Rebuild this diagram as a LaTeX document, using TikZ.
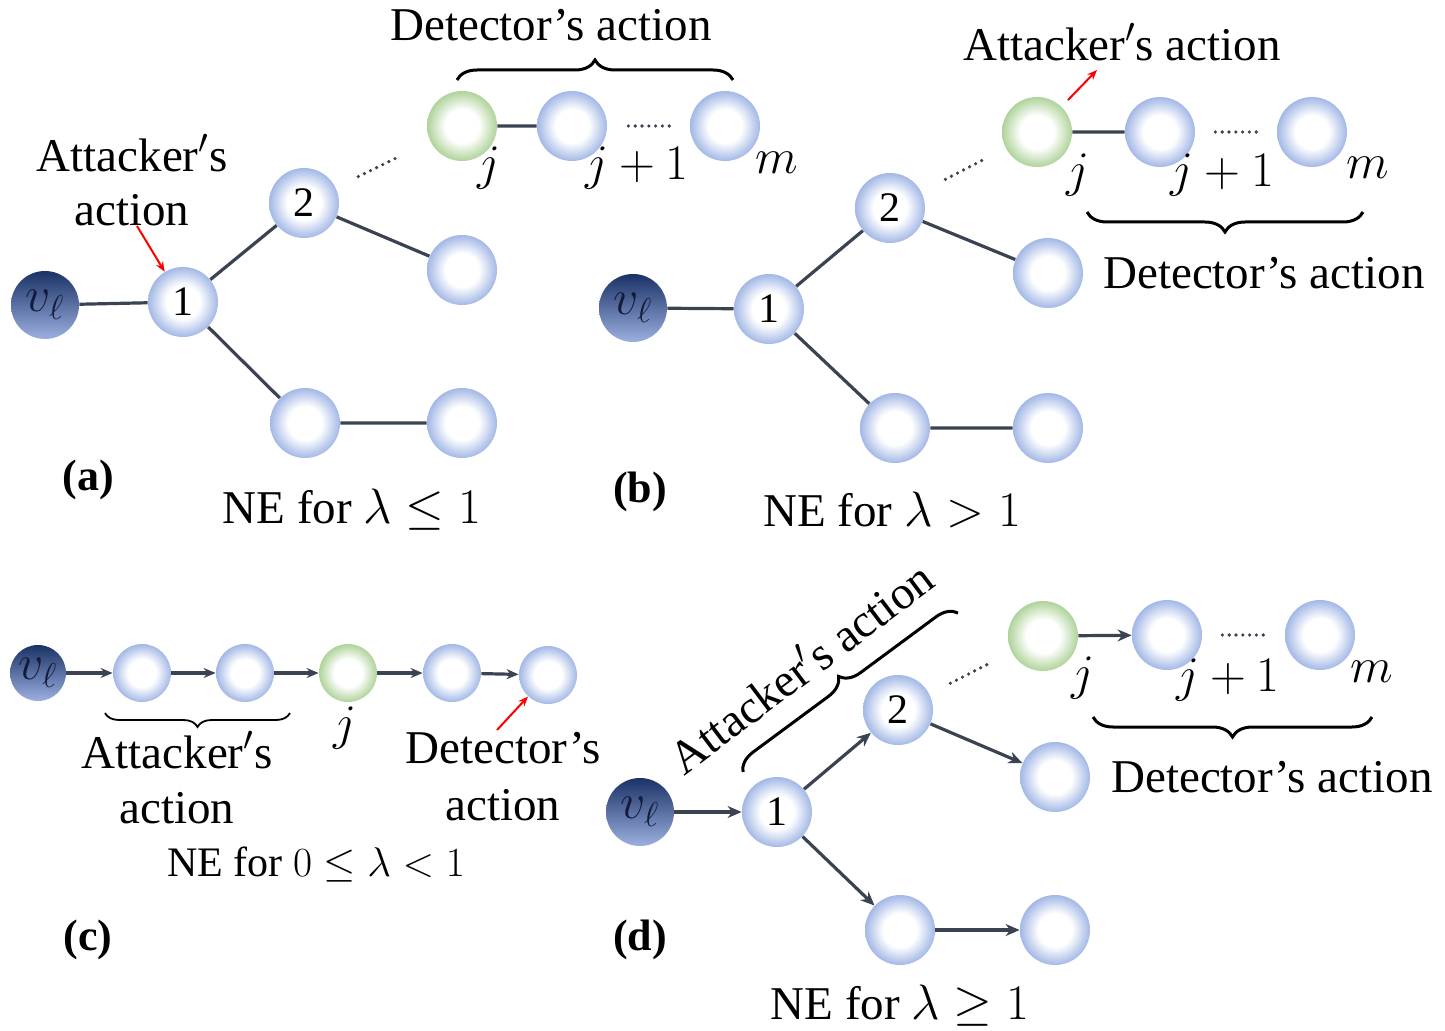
\documentclass[tikz,border=0pt]{standalone}
\usepackage{fontspec}
\setmainfont{Liberation Serif}
\usetikzlibrary{arrows.meta,decorations.pathreplacing,calc}
\definecolor{ballblue}{HTML}{A3B8E6}
\definecolor{ballgreen}{HTML}{AFD39A}
\definecolor{navytop}{HTML}{1A3266}
\definecolor{navymid}{HTML}{4A66A4}
\definecolor{navybot}{HTML}{9CAFE0}
\definecolor{navytext}{HTML}{141B3A}
\definecolor{edgec}{HTML}{3B4352}
\pgfdeclareradialshading{bballs}{\pgfpoint{0bp}{0bp}}{color(0bp)=(white); color(12bp)=(white); color(25bp)=(ballblue); color(50bp)=(ballblue)}
\pgfdeclareradialshading{gballs}{\pgfpoint{0bp}{0bp}}{color(0bp)=(white); color(12bp)=(white); color(25bp)=(ballgreen); color(50bp)=(ballgreen)}
\begin{document}
\begin{tikzpicture}[x=0.5pt,y=-0.5pt,
  font=\fontsize{23.5}{27}\selectfont,
  ball/.style={circle,minimum size=35pt,inner sep=0pt,shading=bballs,font=\fontsize{21}{25}\selectfont},
  gball/.style={ball,shading=gballs},
  dball/.style={circle,minimum size=34pt,inner sep=0pt,top color=navytop,middle color=navymid,bottom color=navybot,text=navytext},
  smallb/.style={minimum size=29pt},
  conn/.style={draw=edgec,line width=1.6pt},
  arr/.style={conn,-{Stealth[length=7pt,width=6pt]}},
  carr/.style={conn,-{Stealth[length=6pt,width=5pt]}},
  redarr/.style={draw=red,line width=1pt,-{Stealth[length=5pt,width=4pt]}},
  dotsl/.style={draw=edgec,line width=1.8pt,line cap=round,dash pattern=on 0pt off 3.4pt},
  brc/.style={draw=black,decorate,decoration={brace,amplitude=10pt},line width=1.5pt},
  brcm/.style={brc,decoration={brace,amplitude=10pt,mirror}},
  lbl/.style={font=\fontsize{22}{26}\selectfont\bfseries}
]
\path[use as bounding box] (0,0) rectangle (1445,1031);

% ---------------- (a) ----------------
\node[dball] (av) at (45,305) {$v_\ell$};
\node[ball] (a1) at (183,302) {1};
\node[ball] (a2) at (304,203) {2};
\node[ball] (a3) at (462,270) {};
\node[ball] (a4) at (305,423) {};
\node[ball] (a5) at (462,423) {};
\node[gball] (aj) at (462,126) {};
\node[ball] (aj1) at (572,126) {};
\node[ball] (am) at (725,126) {};
\draw[conn] (av)--(a1) (a1)--(a2) (a2)--(a3) (a1)--(a4) (a4)--(a5) (aj)--(aj1);
\draw[dotsl,shorten <=12.5pt,shorten >=19.5pt] (a2)--(aj);
\draw[dotsl,shorten <=10.5pt,shorten >=10pt] (aj1)--(am);
\node (ajl) at (489,168) {$j$};
\node (ajl1) at (637,168) {$j+1$};
\node (aml) at (777,163) {$m$};
\coordinate (abr1) at (457,80);
\coordinate (abr2) at (733,80);
\draw[brc] (abr1)--(abr2);
\node (adet) at (551,25) {Detector's action};
\node (aat1) at (132,153) {Attacker$'$s};
\node (aat2) at (132,210) {action};
\coordinate (ara) at (137,226);
\draw[redarr] (ara)--(a1);
\node[lbl] (alab) at (88,480) {(a)};
\node (ane) at (352,510) {NE for $\lambda\le 1$};

% ---------------- (b) ----------------
\node[dball] (bv) at (633,308) {$v_\ell$};
\node[ball] (b1) at (769,309) {1};
\node[ball] (b2) at (890,208) {2};
\node[ball] (b3) at (1048,273) {};
\node[ball] (b4) at (895,428) {};
\node[ball] (b5) at (1048,428) {};
\node[gball] (bj) at (1037,132) {};
\node[ball] (bj1) at (1160,132) {};
\node[ball] (bm) at (1312,132) {};
\draw[conn] (bv)--(b1) (b1)--(b2) (b2)--(b3) (b1)--(b4) (b4)--(b5) (bj)--(bj1);
\draw[dotsl,shorten <=13.5pt,shorten >=11.8pt] (b2)--(bj);
\draw[dotsl,shorten <=10pt,shorten >=9.5pt] (bj1)--(bm);
\node (bjl) at (1078,175) {$j$};
\node (bjl1) at (1222,175) {$j+1$};
\node (bml) at (1368,168) {$m$};
\coordinate (bbr1) at (1087,212);
\coordinate (bbr2) at (1363,212);
\draw[brcm] (bbr1)--(bbr2);
\node (bdet) at (1264,273) {Detector's action};
\node (batt) at (1122,42) {Attacker$'$s action};
\coordinate (bra) at (1097,70);
\draw[redarr,shorten <=4.5pt] (bj)--(bra);
\node[lbl] (blab) at (640,492) {(b)};
\node (bne) at (892,510) {NE for $\lambda > 1$};

% ---------------- (c) ----------------
\node[dball,minimum size=28pt] (cv) at (38,673) {$v_\ell$};
\node[ball,smallb] (c1) at (142,673) {};
\node[ball,smallb] (c2) at (245,673) {};
\node[gball,smallb] (cj) at (348,673) {};
\node[ball,smallb] (c4) at (452,673) {};
\node[ball,smallb] (c5) at (548,675) {};
\draw[carr] (cv)--(c1);
\draw[carr] (c1)--(c2);
\draw[carr] (c2)--(cj);
\draw[carr] (cj)--(c4);
\draw[carr] (c4)--(c5);
\coordinate (cbr1) at (105,713);
\coordinate (cbr2) at (290,713);
\draw[brcm,line width=0.9pt,decoration={brace,amplitude=7pt,mirror}] (cbr1)--(cbr2);
\node (cat1) at (177,750) {Attacker$'$s};
\node (cat2) at (177,808) {action};
\node (cjl) at (345,728) {$j$};
\node (cdt1) at (503,748) {Detector's};
\node (cdt2) at (503,805) {action};
\coordinate (cra) at (497,730);
\draw[redarr] (cra)--(c5);
\node[font=\fontsize{21}{25}\selectfont] (cne) at (316,865) {NE for $0\le\lambda<1$};
\node[lbl] (clab) at (88,940) {(c)};

% ---------------- (d) ----------------
\node[dball] (dv) at (640,812) {$v_\ell$};
\node[ball] (d1) at (777,812) {1};
\node[ball] (d2) at (898,710) {2};
\node[ball] (d3) at (1055,777) {};
\node[ball] (d4) at (900,930) {};
\node[ball] (d5) at (1055,930) {};
\node[gball] (dj) at (1043,636) {};
\node[ball] (dj1) at (1167,635) {};
\node[ball] (dm) at (1320,635) {};
\draw[arr] (dv)--(d1);
\draw[arr] (d1)--(d2);
\draw[arr] (d2)--(d3);
\draw[arr] (d1)--(d4);
\draw[arr] (d4)--(d5);
\draw[arr] (dj)--(dj1);
\draw[dotsl,shorten <=11.7pt,shorten >=12.3pt] (d2)--(dj);
\draw[dotsl,shorten <=10pt,shorten >=10pt] (dj1)--(dm);
\node (djl) at (1083,678) {$j$};
\node (djl1) at (1228,680) {$j+1$};
\node (dml) at (1372,672) {$m$};
\coordinate (dbr1) at (1093,717);
\coordinate (dbr2) at (1372,717);
\draw[brcm] (dbr1)--(dbr2);
\node (ddet) at (1272,777) {Detector's action};
\coordinate (dbr3) at (743,772);
\coordinate (dbr4) at (958,613);
\draw[brc] (dbr3)--(dbr4);
\node[rotate=37] (datt) at (800,666) {Attacker$'$s action};
\node[lbl] (dlab) at (640,940) {(d)};
\node (dne) at (900,1006) {NE for $\lambda\ge 1$};
\end{tikzpicture}
\end{document}
